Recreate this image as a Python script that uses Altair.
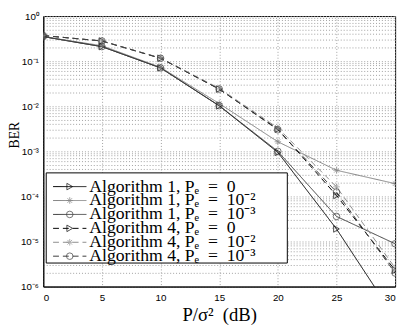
import altair as alt
import pandas as pd

snr_db = [0, 5, 10, 15, 20, 25, 30]
series_names = [
    "Algorithm 1, Pₑ\u2002=\u20020",
    "Algorithm 1, Pₑ\u2002=\u200210⁻²",
    "Algorithm 1, Pₑ\u2002=\u200210⁻³",
    "Algorithm 4, Pₑ\u2002=\u20020",
    "Algorithm 4, Pₑ\u2002=\u200210⁻²",
    "Algorithm 4, Pₑ\u2002=\u200210⁻³",
]
alg1_pe0 = [0.35, 0.21, 0.071, 0.0102, 9.5e-4, 1.9e-5, 2.0e-7]
alg1_pe2 = [0.35, 0.22, 0.073, 0.0115, 1.63e-3, 3.8e-4, 1.92e-4]
alg1_pe3 = [0.35, 0.21, 0.071, 0.0103, 1.0e-3, 3.6e-5, 8.9e-6]
alg4_pe0 = [0.37, 0.28, 0.116, 0.024, 3.1e-3, 1.05e-4, 2.3e-6]
alg4_pe2 = [0.37, 0.28, 0.118, 0.025, 3.3e-3, 1.63e-4, 2.6e-6]
alg4_pe3 = [0.37, 0.28, 0.116, 0.024, 3.0e-3, 1.25e-4, 2.0e-6]
all_series = [alg1_pe0, alg1_pe2, alg1_pe3, alg4_pe0, alg4_pe2, alg4_pe3]

colors = ["#000000", "#808080", "#3a3a3a", "#000000", "#8c8c8c", "#3a3a3a"]
dashes = [[1, 0], [1, 0], [1, 0], [6, 4], [6, 4], [6, 4]]
asterisk = "M-1,0H1M0,-1V1M-0.7,-0.7L0.7,0.7M-0.7,0.7L0.7,-0.7"
shapes = ["triangle-right", asterisk, "circle", "triangle-right", asterisk, "circle"]

rows = []
for name, vals in zip(series_names, all_series):
    for x, v in zip(snr_db, vals):
        rows.append({"snr": x, "ber": v, "series": name})
df = pd.DataFrame(rows)
legend_df = pd.DataFrame({"series": series_names, "row": list(range(len(series_names)))})

color_scale = alt.Scale(domain=series_names, range=colors)
dash_scale = alt.Scale(domain=series_names, range=dashes)
shape_scale = alt.Scale(domain=series_names, range=shapes)

y_ticks = [m * 10.0 ** k for k in range(-6, 0) for m in range(1, 10)] + [1.0]
label_expr = ("abs(log(datum.value)/LN10 - round(log(datum.value)/LN10)) < 0.001 ? "
              "['10⁰','10⁻¹','10⁻²','10⁻³','10⁻⁴','10⁻⁵','10⁻⁶'][-round(log(datum.value)/LN10)] : ''")

x_enc = alt.X("snr:Q", scale=alt.Scale(domain=[0, 30], nice=False),
              axis=alt.Axis(values=snr_db, title="P/σ²\u2002(dB)", grid=True, gridDash=[1, 2],
                            gridColor="#a0a0a0", ticks=False, labelFont="Liberation Sans",
                            labelFontSize=10, labelPadding=6, labelColor="black",
                            titleFont="Liberation Serif", titleFontSize=19,
                            titleFontWeight="normal", titleColor="black",
                            titlePadding=4))
y_enc = alt.Y("ber:Q", scale=alt.Scale(type="log", domain=[1e-6, 1], nice=False),
              axis=alt.Axis(values=y_ticks, labelExpr=label_expr, title="BER", grid=True,
                            gridDash=[1, 2], gridColor="#a0a0a0", ticks=False,
                            labelOverlap=False, labelFlush=False, labelFont="Liberation Sans",
                            labelFontSize=10, labelPadding=5, labelColor="black",
                            titleFont="Liberation Serif", titleFontSize=14,
                            titleFontWeight="normal", titleColor="black",
                            titleX=-29, titleY=121, titleBaseline="middle"))

base = alt.Chart(df)
lines = base.mark_line(strokeWidth=1, clip=True).encode(
    x=x_enc, y=y_enc,
    color=alt.Color("series:N", scale=color_scale, legend=None),
    strokeDash=alt.StrokeDash("series:N", scale=dash_scale, legend=None),
    detail="series:N",
)
points = base.mark_point(filled=False, size=45, strokeWidth=1, clip=True).encode(
    x="snr:Q", y="ber:Q",
    color=alt.Color("series:N", scale=color_scale, legend=None),
    shape=alt.Shape("series:N", scale=shape_scale, legend=None),
)
main = alt.layer(lines, points)

leg_y = alt.Y("row:Q", scale=alt.Scale(domain=[0, 5], range=[174, 245]), axis=None)
box = alt.Chart(pd.DataFrame({"a": [0]})).mark_rect(fill="white", stroke="black", strokeWidth=1).encode(
    x=alt.value(3), x2=alt.value(249), y=alt.value(160), y2=alt.value(252)
)
leg_lines = alt.Chart(legend_df).mark_rule(strokeWidth=1).encode(
    x=alt.value(10), x2=alt.value(44), y=leg_y,
    color=alt.Color("series:N", scale=color_scale, legend=None),
    strokeDash=alt.StrokeDash("series:N", scale=dash_scale, legend=None),
)
leg_pts = alt.Chart(legend_df).mark_point(filled=False, size=45, strokeWidth=1).encode(
    x=alt.value(27), y=leg_y,
    color=alt.Color("series:N", scale=color_scale, legend=None),
    shape=alt.Shape("series:N", scale=shape_scale, legend=None),
)
leg_text = alt.Chart(legend_df).mark_text(align="left", baseline="middle", font="Liberation Serif",
                                           fontSize=18, color="black").encode(
    x=alt.value(47), y=leg_y, text="series:N"
)

legend_layer = alt.layer(box, leg_lines, leg_pts, leg_text)

chart = alt.layer(main, legend_layer).resolve_scale(
    y="independent", x="independent"
).properties(
    width=359, height=276,
    padding={"left": 36, "top": 5, "right": 6, "bottom": 37},
    autosize=alt.AutoSizeParams(type="none"),
).configure_view(stroke="black", strokeWidth=1).configure_axis(
    domainColor="black", domainWidth=1
)

chart.save("out.html", embed_options={"renderer": "svg", "actions": False})
